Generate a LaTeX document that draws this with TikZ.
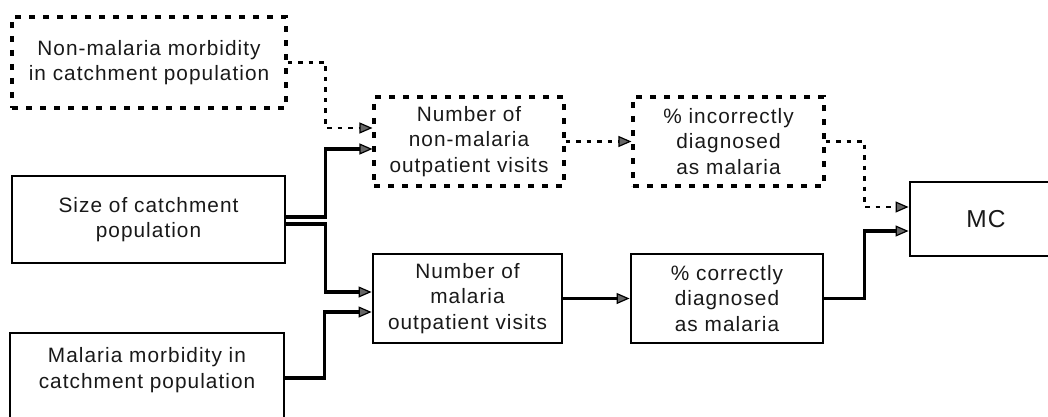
\documentclass[tikz,border=0pt]{standalone}
\usepackage{fontspec}
\setmainfont{Liberation Sans}[LetterSpace=5.0]
\usetikzlibrary{arrows.meta}
\begin{document}
\begin{tikzpicture}[x=1pt,y=-1pt,
  every node/.style={font=\fontsize{20.8}{25.5}\selectfont, align=center, inner sep=0pt, text=black!90},
  solidbox/.style={draw=black, line width=2.9pt, fill=white, rectangle},
  dashbox/.style={draw=black, line width=3.1pt, dash pattern=on 6pt off 8pt, rectangle},
  tip/.style={-{Triangle[length=13pt,width=11pt,fill=black!60,line width=1.2pt]}},
  solidarr/.style={tip, draw=black, line width=3.1pt},
  dasharr/.style={tip, draw=black, line width=2.9pt, dash pattern=on 4.5pt off 6pt}
]
\useasboundingbox (0,0) rectangle (1048,417);
\clip (0,0) rectangle (1048,417);

% left column: inputs
\node[dashbox, minimum width=274pt, minimum height=91pt] (nonmorb) at (149,62.5)
  {Non-malaria morbidity\\in catchment population};
\node[solidbox, minimum width=273pt, minimum height=87pt] (size) at (148.5,219.5)
  {Size of catchment\\population};
\node[solidbox, minimum width=274pt, minimum height=87pt] (malmorb) at (147,376.5) {};
\node (malmorbtext) at (147,370) {Malaria morbidity in\\catchment population};

% middle column: outpatient visits
\node[dashbox, minimum width=190pt, minimum height=89pt] (nonmal) at (469,141.5)
  {Number of\\non-malaria\\outpatient visits};
\node[solidbox, minimum width=189pt, minimum height=89pt] (malvis) at (467.5,298.5)
  {Number of\\malaria\\outpatient visits};

% diagnosis shares
\node[dashbox, minimum width=191pt, minimum height=89pt] (incorr) at (728.5,141.5)
  {\% incorrectly\\diagnosed\\as malaria};
\node[solidbox, minimum width=192pt, minimum height=89pt] (corr) at (727,298.5)
  {\% correctly\\diagnosed\\as malaria};

% result
\node[solidbox, minimum width=152pt, minimum height=74pt,
      font=\fontsize{24.5}{28}\selectfont] (mc) at (986,219) {MC};

% connectors
\draw[dasharr] (nonmorb.east) -- ++(38,0) |- ([yshift=13.5pt]nonmal.west);
\draw[solidarr] ([yshift=2.5pt]size.east) -- ++(39,0) |- ([yshift=-7.5pt]nonmal.west);
\draw[solidarr] ([yshift=-4.5pt]size.east) -- ++(39,0) |- ([yshift=6.5pt]malvis.west);
\draw[solidarr] ([yshift=-1.5pt]malmorb.east) -- ++(39,0) |- ([yshift=-13.5pt]malvis.west);
\draw[dasharr] (nonmal.east) -- (incorr.west);
\draw[solidarr] (malvis.east) -- (corr.west);
\draw[dasharr] (incorr.east) -- ++(39,0) |- ([yshift=12pt]mc.west);
\draw[solidarr] (corr.east) -- ++(40,0) |- ([yshift=-12pt]mc.west);
\end{tikzpicture}
\end{document}
